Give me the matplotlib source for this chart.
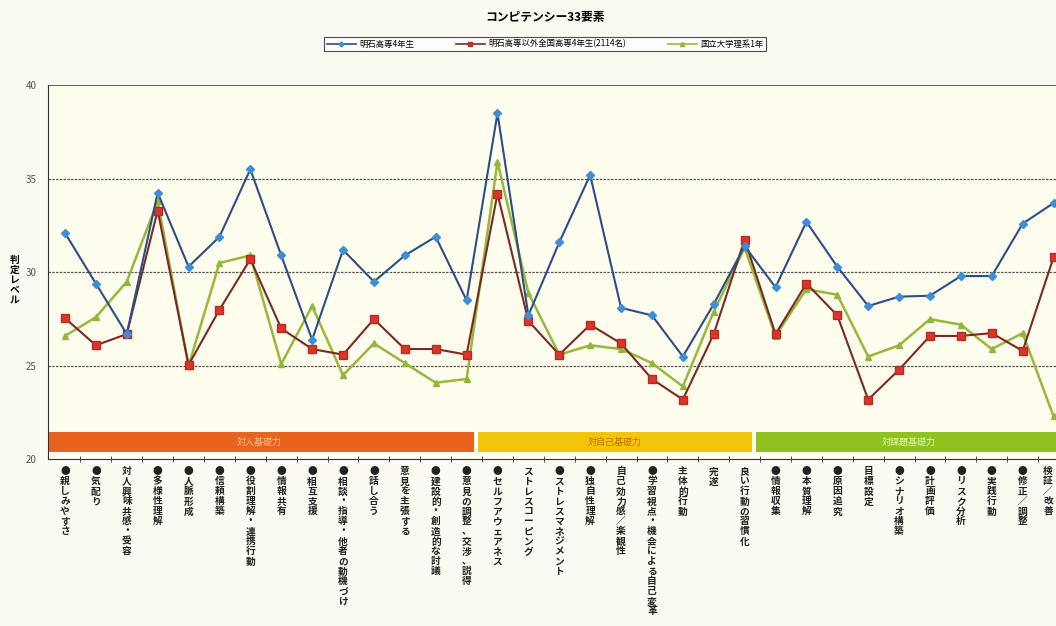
import numpy as np
import matplotlib
matplotlib.use("Agg")
import matplotlib.pyplot as plt
from matplotlib.lines import Line2D
from matplotlib.transforms import ScaledTranslation

plt.rcParams['font.family'] = ['Noto Sans CJK JP', 'DejaVu Sans']

# ---- data ----
categories = [
    "●親しみやすさ", "●気配り", "対人興味共感・受容", "●多様性理解", "●人脈形成",
    "●信頼構築", "●役割理解・連携行動", "●情報共有", "●相互支援",
    "●相談・指導・他者の動機づけ", "●話し合う", "意見を主張する",
    "●建設的・創造的な討議", "●意見の調整、交渉、説得",
    "●セルフアウェアネス", "ストレスコーピング", "●ストレスマネジメント",
    "●独自性理解", "自己効力感／楽観性", "●学習視点・機会による自己変革",
    "主体的行動", "完遂", "良い行動の習慣化",
    "●情報収集", "●本質理解", "●原因追究", "目標設定", "●シナリオ構築",
    "●計画評価", "●リスク分析", "●実践行動", "●修正／調整", "検証／改善",
]
akashi = [32.1, 29.4, 26.7, 34.25, 30.3, 31.9, 35.5, 30.9, 26.4, 31.2, 29.5,
          30.9, 31.9, 28.5, 38.5, 27.7, 31.6, 35.2, 28.1, 27.7, 25.5, 28.3,
          31.4, 29.2, 32.7, 30.3, 28.2, 28.7, 28.75, 29.8, 29.8, 32.6, 33.7]
others = [27.55, 26.1, 26.7, 33.3, 25.05, 28.0, 30.7, 27.0, 25.9, 25.6, 27.5,
          25.9, 25.9, 25.6, 34.2, 27.4, 25.6, 27.2, 26.2, 24.3, 23.2, 26.7,
          31.75, 26.7, 29.4, 27.7, 23.2, 24.8, 26.6, 26.6, 26.75, 25.8, 30.8]
univ = [26.6, 27.6, 29.5, 33.8, 25.0, 30.5, 30.9, 25.1, 28.2, 24.5, 26.2,
        25.15, 24.1, 24.3, 35.9, 28.9, 25.6, 26.1, 25.9, 25.15, 23.9, 27.9,
        31.3, 26.6, 29.1, 28.8, 25.5, 26.1, 27.5, 27.2, 25.9, 26.75, 22.3]
series_names = ["明石高専4年生", "明石高専以外全国高専4年生(2114名)", "国立大学理系1年"]
groups = ["対人基礎力", "対自己基礎力", "対課題基礎力"]
group_spans = [(1, 14), (15, 23), (24, 33)]

# ---- figure ----
fig = plt.figure(figsize=(10.56, 6.26), dpi=100, facecolor='#FAF9F2')
ax = fig.add_axes([48 / 1056, 0.266, 1021 / 1056, 0.598])
ax.set_facecolor('#FFFDEE')

x = np.arange(1, len(categories) + 1)

ax.plot(x, akashi, color='#2A4E86', lw=1.5, marker='D', ms=4.5,
        mfc='#3D8ED6', mec='#3D8ED6', zorder=5)
ax.plot(x, others, color='#7A2A22', lw=1.5, marker='s', ms=6,
        mfc='#D8352B', mec='#B82A22', zorder=4)
ax.plot(x, univ, color='#98B83A', lw=1.8, marker='^', ms=5,
        mfc='#8DB83A', mec='#8DB83A', zorder=3)

ax.set_xlim(0.45, 33.5)
ax.set_ylim(20, 40)
ax.set_yticks([20, 25, 30, 35, 40])
ax.tick_params(axis='y', length=0, labelsize=7, labelcolor='#555555', pad=8)
for v in [25, 30, 35]:
    ax.axhline(v, color='#555555', lw=0.9, ls=(0, (2, 1)), zorder=1)
ax.axhline(40, color='#444444', lw=1.2, zorder=1)

# category bands
band_colors = ['#E8641E', '#F2C40C', '#8EC21E']
text_colors = ['#F6C08A', '#C8700A', '#E4F2B8']
for (s, e), name, c, tc in zip(group_spans, groups, band_colors, text_colors):
    x0 = s - 0.5 - 0.2 + 0.07
    x1 = e + 0.5 - 0.2 - 0.07
    ax.fill_between([x0, x1], 20.4, 21.45, color=c, lw=0, zorder=2)
    ax.text((x0 + x1) / 2, 20.93, name, ha='center', va='center',
            fontsize=6.5, color=tc, zorder=3)

# x ticks: vertical stacked labels
ax.set_xticks(x)
ax.set_xticklabels(['\n'.join(c) for c in categories], fontsize=7,
                   va='top', linespacing=1.0, color='#222222',
                   fontweight='bold')
ax.tick_params(axis='x', which='major', length=0, pad=5)
ax.set_xticks(x[:-1] + 0.5, minor=True)
ax.tick_params(axis='x', which='minor', length=4, direction='inout',
               color='#333333')
# last label sits at the right edge: nudge it left a little
last = ax.get_xticklabels()[-1]
last.set_transform(last.get_transform() +
                   ScaledTranslation(-4 / 72, 0, fig.dpi_scale_trans))

for sp in ['top', 'right']:
    ax.spines[sp].set_visible(False)
ax.spines['left'].set_color('#333333')
ax.spines['bottom'].set_color('#333333')

ax.set_ylabel('\n'.join("判定レベル"), rotation=0, fontsize=7,
              fontweight='bold', linespacing=1.0, va='center', labelpad=10)
ax.yaxis.set_label_coords(-0.033, 0.48)

# title & legend
fig.text(545 / 1056, 1 - 17 / 626, "コンピテンシー33要素", ha='center',
         va='center', fontsize=8.5, fontweight='bold')
handles = [
    Line2D([], [], color='#2A4E86', lw=1.2, marker='D', ms=2.5, mfc='#3D8ED6', mec='#3D8ED6'),
    Line2D([], [], color='#7A2A22', lw=1.2, marker='s', ms=3, mfc='#D8352B', mec='#B82A22'),
    Line2D([], [], color='#98B83A', lw=1.2, marker='^', ms=3, mfc='#8DB83A', mec='#8DB83A'),
]
leg = fig.legend(handles, series_names, loc='center', ncol=3,
                 bbox_to_anchor=(545 / 1056, 1 - 44 / 626), fontsize=6,
                 frameon=True, fancybox=False, edgecolor='#222222',
                 handlelength=3.5, handletextpad=0.4, columnspacing=5,
                 borderpad=0.35, borderaxespad=0)
leg.get_frame().set_linewidth(0.8)
leg.get_frame().set_facecolor('#FFFFFF')

fig.savefig('out.png', dpi=100, facecolor=fig.get_facecolor())
